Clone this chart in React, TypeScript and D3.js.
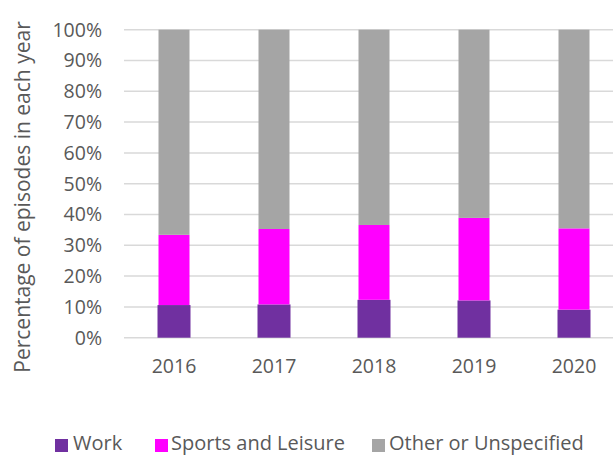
import React from "react";
import * as d3 from "d3";

const years = ["2016", "2017", "2018", "2019", "2020"];
const work = [10.6, 10.8, 12.3, 12.1, 9.1];
const sports = [22.8, 24.5, 24.3, 26.8, 26.4];
const other = years.map((_, i) => 100 - work[i] - sports[i]);
const seriesNames = ["Work", "Sports and Leisure", "Other or Unspecified"];
const seriesColors = ["#7030A0", "#FF00FF", "#A5A5A5"];
const yTicks = [0, 10, 20, 30, 40, 50, 60, 70, 80, 90, 100];

const W = 613;
const H = 455;
const FONT = "'Open Sans', sans-serif";
const TXT = "#595959";

export default function App() {
  const x = d3.scaleBand<string>().domain(years).range([124, 624]);
  const y = d3.scaleLinear().domain([0, 100]).range([337.7, 29.7]);
  const barW = 31;

  const rows = years.map((yr, i) => ({ year: yr, Work: work[i], Sports: sports[i], Other: other[i] }));
  const stack = d3.stack<any>().keys(["Work", "Sports", "Other"])(rows);

  const legendItems = [
    { name: seriesNames[0], color: seriesColors[0], sx: 55, tx: 73 },
    { name: seriesNames[1], color: seriesColors[1], sx: 155, tx: 171 },
    { name: seriesNames[2], color: seriesColors[2], sx: 372, tx: 389 },
  ];

  return (
    <svg
      width={W}
      height={H}
      style={{ position: "absolute", left: 0, top: 0, background: "#fff" }}
      fontFamily={FONT}
    >
      {yTicks.map((t) => (
        <g key={t}>
          <line x1={124} x2={W} y1={y(t)} y2={y(t)} stroke="#d9d9d9" strokeWidth={1.5} />
          <text x={102} y={y(t)} dy="0.35em" textAnchor="end" fontSize={19.5} fill={TXT}>
            {t}%
          </text>
        </g>
      ))}
      {stack.map((s, si) =>
        s.map((d, i) => {
          const cx = (x(years[i]) as number) + x.bandwidth() / 2;
          const w = si === 0 ? barW + 2 : barW;
          return (
            <rect
              key={si + "-" + i}
              x={cx - w / 2}
              y={y(d[1])}
              width={w}
              height={y(d[0]) - y(d[1])}
              fill={seriesColors[si]}
            />
          );
        })
      )}
      {years.map((yr) => (
        <text
          key={yr}
          x={(x(yr) as number) + x.bandwidth() / 2}
          y={373}
          textAnchor="middle"
          fontSize={19.5}
          fill={TXT}
        >
          {yr}
        </text>
      ))}
      <text
        transform={`translate(30, 197) rotate(-90)`}
        textAnchor="middle"
        fontSize={21}
        fill={TXT}
      >
        Percentage of episodes in each year
      </text>
      {legendItems.map((it) => (
        <g key={it.name}>
          <rect x={it.sx} y={439} width={13} height={13} fill={it.color} />
          <text x={it.tx} y={450} fontSize={20} fill={TXT}>
            {it.name}
          </text>
        </g>
      ))}
    </svg>
  );
}
